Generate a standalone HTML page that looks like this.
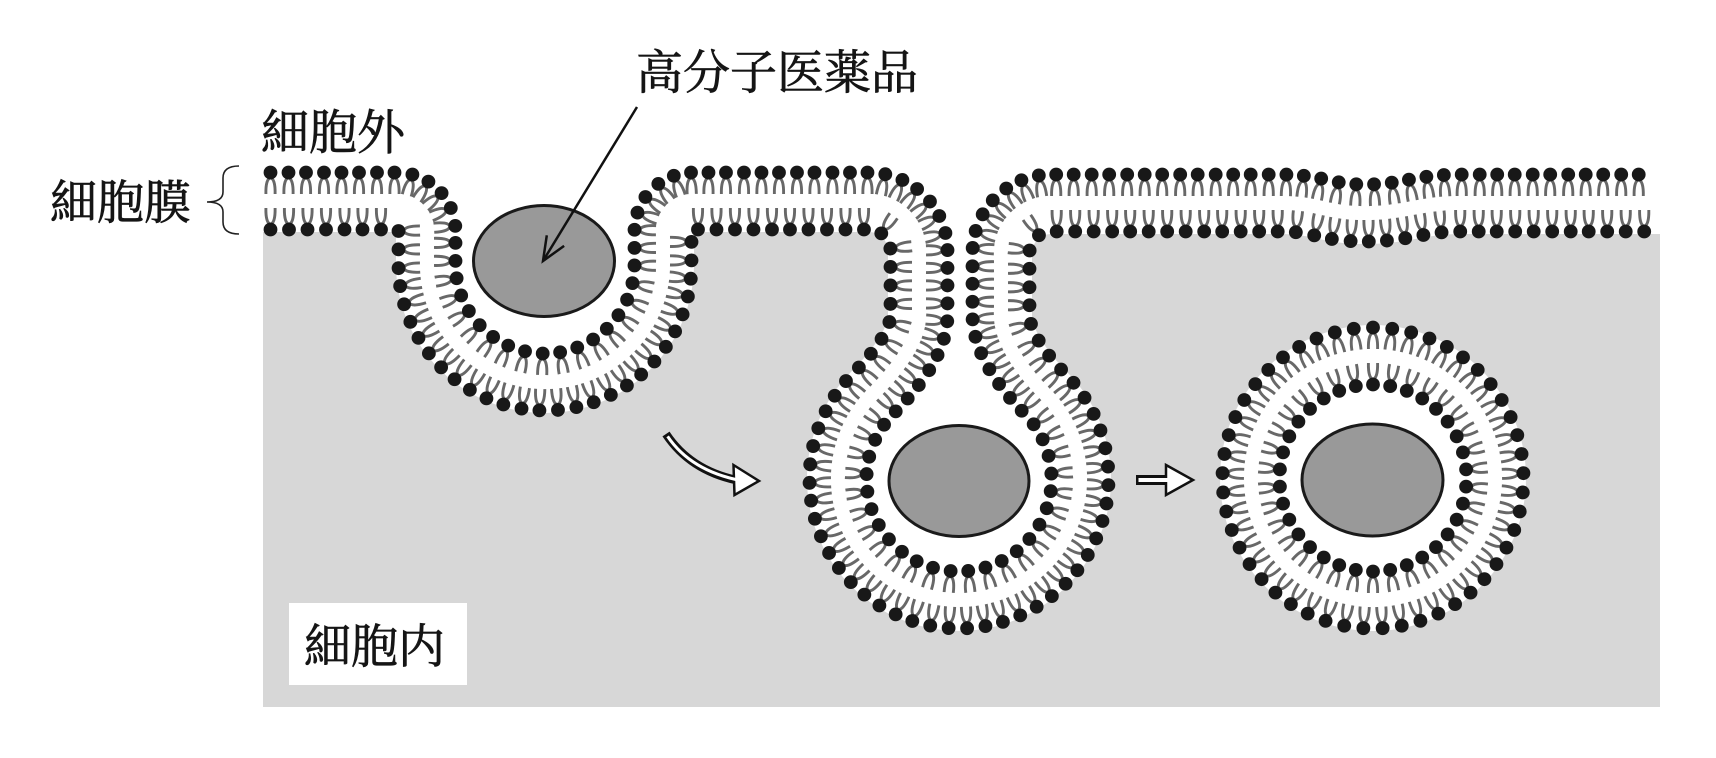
<!DOCTYPE html>
<html><head><meta charset="utf-8">
<style>
html,body{margin:0;padding:0;background:#fff;}
svg{display:block;}
text{font-family:"Liberation Serif","Noto Serif CJK SC","Noto Serif CJK JP",serif;fill:#151515;stroke:#151515;stroke-width:0.7;}
</style></head>
<body>
<svg id="s" width="1716" height="758" viewBox="0 0 1716 758" xmlns="http://www.w3.org/2000/svg">
<defs>
<path id="tail" d="M -4.6 21.5 C -4.8 13 -3.6 6 0 5.5 C 3.6 6 4.8 13 4.6 21.5" fill="none" stroke="#686868" stroke-width="2.9"/>
</defs>
<path id="gray" fill="#d7d7d7" d="M 263 201 L 397 201 A 30 30 0 0 1 427 231 L 427 264 A 118 118 0 0 0 663 264 L 663 231 A 30 30 0 0 1 693 201 L 869 201 A 50 50 0 0 1 919 251 L 919 315 C 919 345 889 377.8 873.4 393.4 A 121 121 0 1 0 1044.6 393.4 C 1029 377.8 1001 345 1001 315 L 1001 253 A 50 50 0 0 1 1051 203 L 1280 203 C 1320 203 1325 213 1365 213 C 1405 213 1420 203 1460 203 L 1660 203 L 1660 707 L 263 707 Z"/>
<path id="mem" fill="none" stroke="#fff" stroke-width="62" stroke-linejoin="round" d="M 263 201 L 397 201 A 30 30 0 0 1 427 231 L 427 264 A 118 118 0 0 0 663 264 L 663 231 A 30 30 0 0 1 693 201 L 869 201 A 50 50 0 0 1 919 251 L 919 315 C 919 345 889 377.8 873.4 393.4 A 121 121 0 1 0 1044.6 393.4 C 1029 377.8 1001 345 1001 315 L 1001 253 A 50 50 0 0 1 1051 203 L 1280 203 C 1320 203 1325 213 1365 213 C 1405 213 1420 203 1460 203 L 1660 203"/>
<circle cx="1373" cy="478" r="153" fill="#fff"/>
<g id="tails"></g>
<g id="heads" fill="#181818"></g>

<ellipse cx="544" cy="261" rx="70.5" ry="55.5" fill="#999" stroke="#1a1a1a" stroke-width="3"/>
<ellipse cx="959" cy="481" rx="70" ry="55.5" fill="#999" stroke="#1a1a1a" stroke-width="3"/>
<ellipse cx="1372.5" cy="480" rx="70.5" ry="56" fill="#999" stroke="#1a1a1a" stroke-width="3"/>

<!-- pointer arrow -->
<line x1="637" y1="107" x2="543" y2="261" stroke="#111" stroke-width="2.5"/>
<polyline points="546.8,235.3 543,261 564.1,245.9" fill="none" stroke="#111" stroke-width="2.5"/>

<!-- curved hollow arrow -->
<path d="M 666 434 Q 690 470 736 480" fill="none" stroke="#111" stroke-width="8.5"/>
<polygon points="733.5,465 759,481 734.5,495" fill="#fff" stroke="#111" stroke-width="2.5" stroke-linejoin="miter"/>
<path d="M 667.6 436.4 Q 691 471 741 480.6" fill="none" stroke="#fff" stroke-width="3"/>

<!-- straight hollow arrow -->
<line x1="1136" y1="480" x2="1167" y2="480" stroke="#111" stroke-width="10"/>
<polygon points="1166,465 1193,480 1166,495" fill="#fff" stroke="#111" stroke-width="2.5"/>
<line x1="1138.5" y1="480" x2="1171" y2="480" stroke="#fff" stroke-width="4"/>

<!-- brace -->
<path d="M 239 166 Q 223 166 223 178 L 223 192 Q 223 202 207 202 Q 223 202 223 212 L 223 222 Q 223 234 239 234" fill="none" stroke="#222" stroke-width="1.6"/>

<!-- labels -->
<text x="636" y="89" font-size="47">高分子医薬品</text>
<text x="261" y="149" font-size="48">細胞外</text>
<text x="50" y="219" font-size="47">細胞膜</text>
<rect x="289" y="603" width="178" height="82" fill="#fff"/>
<text x="304" y="663" font-size="47">細胞内</text>
</svg>
<script>
(function(){
var NS='http://www.w3.org/2000/svg';
var tails=document.getElementById('tails'), heads=document.getElementById('heads');
var H=28.5, R=6.9;
function lipid(x,y,ux,uy){
  var a=Math.atan2(-ux,uy)*180/Math.PI;
  var t=document.createElementNS(NS,'use');
  t.setAttribute('href','#tail');
  t.setAttributeNS('http://www.w3.org/1999/xlink','xlink:href','#tail');
  t.setAttribute('transform','translate('+x.toFixed(2)+','+y.toFixed(2)+') rotate('+a.toFixed(2)+')');
  tails.appendChild(t);
  var c=document.createElementNS(NS,'circle');
  c.setAttribute('cx',x.toFixed(2));c.setAttribute('cy',y.toFixed(2));c.setAttribute('r',R);
  heads.appendChild(c);
}
function alongPath(p){
  var L=p.getTotalLength(), step=0.5, pts=[];
  for(var s=0;s<=L;s+=step){var q=p.getPointAtLength(s);pts.push([q.x,q.y,s]);}
  var n=pts.length, nor=[];
  for(var i=0;i<n;i++){
    var a=pts[Math.max(0,i-2)], b=pts[Math.min(n-1,i+2)];
    var tx=b[0]-a[0], ty=b[1]-a[1], l=Math.hypot(tx,ty)||1;
    tx/=l; ty/=l; nor.push([ty,-tx]);
  }
  [[1,17.7],[-1,18.4]].forEach(function(cfg){
    var sg=cfg[0], sp=cfg[1], acc=0, target=7.5, prev=null;
    for(var i=0;i<n;i++){
      var qx=pts[i][0]+sg*nor[i][0]*H, qy=pts[i][1]+sg*nor[i][1]*H;
      if(prev){acc+=Math.hypot(qx-prev[0],qy-prev[1]);}
      prev=[qx,qy];
      if(acc>=target){
        if(pts[i][2]<L-5) lipid(qx,qy,-sg*nor[i][0],-sg*nor[i][1]);
        target+=sp;
      }
    }
  });
}
alongPath(document.getElementById('mem'));
function ring(cx,cy,r,n,inward){
  for(var k=0;k<n;k++){
    var ang=-Math.PI/2+2*Math.PI*k/n, c=Math.cos(ang), s=Math.sin(ang);
    var x=cx+r*c, y=cy+r*s;
    if(inward) lipid(x,y,-c,-s); else lipid(x,y,c,s);
  }
}
ring(1373,478,150.5,49,true);
ring(1373,478,93.5,34,false);
})();
</script>
</body></html>
